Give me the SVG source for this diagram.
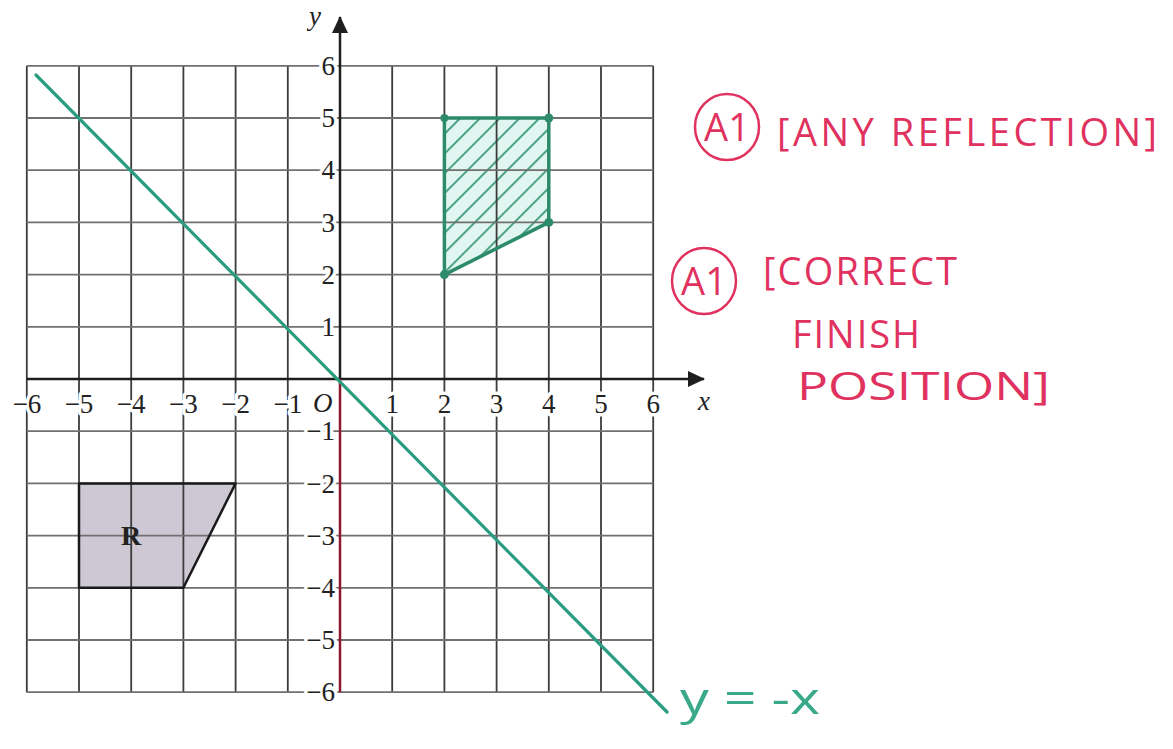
<svg xmlns="http://www.w3.org/2000/svg" width="1173" height="749" viewBox="0 0 1173 749">
<style>
.gv{stroke:#3c3c3c;stroke-width:1.8;fill:none}
.gh{stroke:#707070;stroke-width:1.8;fill:none}
.lbl{font-family:"Liberation Serif",serif;font-size:27px;fill:#222;stroke:#fff;stroke-width:7;paint-order:stroke;stroke-linejoin:round}
.it{font-style:italic}
.ax{stroke:#1e1e1e;stroke-width:2.5;fill:none}
.red{font-family:"Open Sans","Liberation Sans",sans-serif;font-size:38px;fill:#e0325f}
.redc{fill:none;stroke:#e0325f;stroke-width:2.5}
.dot{fill:#2e8b6a}
</style>
<defs>
<pattern id="hatch" patternUnits="userSpaceOnUse" width="14" height="14" patternTransform="rotate(45)">
<rect width="14" height="14" fill="#e2f6f1"/>
<line x1="3" y1="0" x2="3" y2="14" stroke="#3a9a7a" stroke-width="1.8"/>
</pattern>
<marker id="arr" markerWidth="18" markerHeight="18" refX="16" refY="9" orient="auto" markerUnits="userSpaceOnUse">
<path d="M0,1 L17,9 L0,17 Z" fill="#1e1e1e"/>
</marker>
</defs>
<rect width="1173" height="749" fill="#fff"/>

<g id="shape-R-fill">
<polygon points="79,483.4 235.6,483.4 183.4,587.8 79,587.8" fill="#cdc8d4"/>
</g>
<g id="image-fill">
<polygon points="444.4,118 548.8,118 548.8,222.4 444.4,274.6" fill="url(#hatch)"/>
</g>

<g id="grid">
<path class="gv" d="M26.8,65.8V692.2M79,65.8V692.2M131.2,65.8V692.2M183.4,65.8V692.2M235.6,65.8V692.2M287.8,65.8V692.2M392.2,65.8V692.2M444.4,65.8V692.2M496.6,65.8V692.2M548.8,65.8V692.2M601,65.8V692.2M653.2,65.8V692.2"/>
<path class="gh" d="M26.8,65.8H653.2M26.8,118H653.2M26.8,170.2H653.2M26.8,222.4H653.2M26.8,274.6H653.2M26.8,326.8H653.2M26.8,431.2H653.2M26.8,483.4H653.2M26.8,535.6H653.2M26.8,587.8H653.2M26.8,640H653.2M26.8,692.2H653.2"/>
</g>

<g id="y-labels" class="lbl" text-anchor="end">
<text x="335" y="75">6</text>
<text x="335" y="127.2">5</text>
<text x="335" y="179.4">4</text>
<text x="335" y="231.6">3</text>
<text x="335" y="283.8">2</text>
<text x="335" y="336">1</text>
<text x="335" y="440.4">−1</text>
<text x="335" y="492.6">−2</text>
<text x="335" y="544.8">−3</text>
<text x="335" y="597">−4</text>
<text x="335" y="649.2">−5</text>
<text x="335" y="701.4">−6</text>
</g>
<g id="x-labels" class="lbl" text-anchor="middle">
<text x="27" y="413">−6</text>
<text x="79" y="413">−5</text>
<text x="131.2" y="413">−4</text>
<text x="183.4" y="413">−3</text>
<text x="235.6" y="413">−2</text>
<text x="287.8" y="413">−1</text>
<text x="392.2" y="413">1</text>
<text x="444.4" y="413">2</text>
<text x="496.6" y="413">3</text>
<text x="548.8" y="413">4</text>
<text x="601" y="413">5</text>
<text x="653.2" y="413">6</text>
</g>
<g id="axis-labels" class="lbl it">
<text x="313" y="412">O</text>
<text x="698" y="410">x</text>
<text x="309" y="25">y</text>
</g>

<g id="axes">
<line class="ax" x1="26.8" y1="379" x2="704" y2="379" marker-end="url(#arr)"/>
<line class="ax" x1="340" y1="379" x2="340" y2="17" marker-end="url(#arr)"/>
<line x1="340" y1="379" x2="340" y2="692.2" stroke="#8b1a2e" stroke-width="2.5"/>
</g>

<g id="shape-R">
<polygon points="79,483.4 235.6,483.4 183.4,587.8 79,587.8" fill="none" stroke="#1a1a1a" stroke-width="2.5" stroke-linejoin="round"/>
<text x="131.2" y="545" text-anchor="middle" font-family="Liberation Serif,serif" font-size="28" font-weight="bold" fill="#222">R</text>
</g>

<g id="image">
<polygon points="444.4,118 548.8,118 548.8,222.4 444.4,274.6" fill="none" stroke="#2e8b6a" stroke-width="3.5" stroke-linejoin="round"/>
<circle class="dot" cx="444.4" cy="118" r="4"/>
<circle class="dot" cx="548.8" cy="118" r="4.5"/>
<circle class="dot" cx="548.8" cy="222.4" r="4.5"/>
<circle class="dot" cx="444.4" cy="274.6" r="4.5"/>
</g>

<g id="connectors">
<line id="mirror-line" x1="36" y1="75" x2="667" y2="712" stroke="#2a9d80" stroke-width="3.2" stroke-linecap="round"/>
</g>
<g id="mirror-label">
<text x="680" y="714" font-family="Open Sans,Liberation Sans,sans-serif" font-size="44" fill="#3aa98a" textLength="140" lengthAdjust="spacingAndGlyphs">y = -x</text>
</g>

<g id="note-1">
<ellipse class="redc" cx="727" cy="127" rx="32" ry="33"/>
<text class="red" x="727" y="141" text-anchor="middle" font-size="34">A1</text>
<text class="red" x="777" y="146" textLength="380" lengthAdjust="spacing">[ANY REFLECTION]</text>
</g>
<g id="note-2">
<ellipse class="redc" cx="704" cy="281" rx="32" ry="33"/>
<text class="red" x="704" y="295" text-anchor="middle" font-size="34">A1</text>
<text class="red" x="763" y="285" textLength="194" lengthAdjust="spacing">[CORRECT</text>
<text class="red" x="792" y="348" textLength="128" lengthAdjust="spacing">FINISH</text>
<text class="red" x="797" y="400" font-size="42" textLength="253" lengthAdjust="spacingAndGlyphs">POSITION]</text>
</g>
</svg>
